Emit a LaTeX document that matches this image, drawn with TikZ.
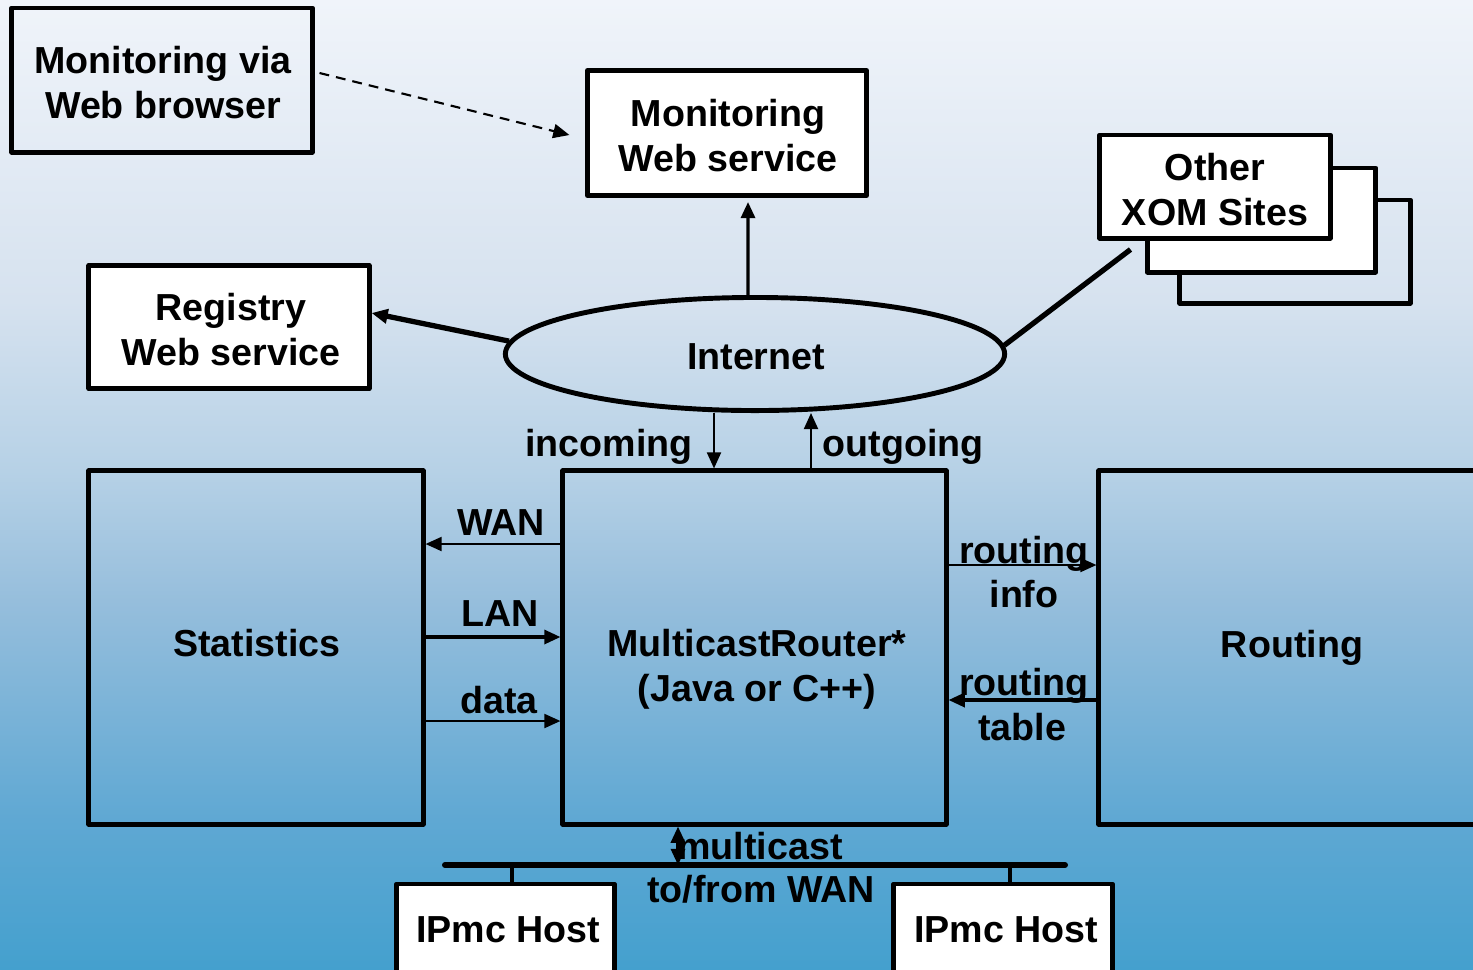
\documentclass[tikz,border=0pt]{standalone}
\usepackage{fontspec}
\setmainfont{Liberation Sans}
\usetikzlibrary{arrows.meta,shapes.geometric}

\definecolor{bgA}{RGB}{68,160,206}
\definecolor{bgB}{RGB}{95,168,211}
\definecolor{bgC}{RGB}{150,190,220}
\definecolor{bgD}{RGB}{182,209,230}
\definecolor{bgE}{RGB}{214,226,239}
\definecolor{bgF}{RGB}{240,244,250}

% backdrop: pale at the top, deepening to sky blue at the bottom
\pgfdeclareverticalshading{backdrop}{100bp}{%
  color(0bp)=(bgA);
  color(25bp)=(bgA);
  color(32.7bp)=(bgB);
  color(44bp)=(bgC);
  color(50.7bp)=(bgD);
  color(59.5bp)=(bgE);
  color(75bp)=(bgF);
  color(100bp)=(bgF)}

\begin{document}
\begin{tikzpicture}[x=0.01cm,y=-0.01cm,
  font=\fontsize{10.7}{12.8}\selectfont\bfseries,
  box/.style={draw,line width=1.4pt,line join=round,inner sep=0pt},
  wbox/.style={box,fill=white},
  txt/.style={inner sep=0pt,align=center},
  lab/.style={inner sep=0pt,anchor=base},
  arw/.style={-{Triangle[length=4.6pt,width=4pt]}},
  biarw/.style={{Triangle[length=4.6pt,width=4pt]}-{Triangle[length=4.6pt,width=4pt]}},
  thinline/.style={line width=0.6pt},
  midline/.style={line width=0.9pt},
  heavyline/.style={line width=1.5pt},
]
\useasboundingbox (0,0) rectangle (1473,969);
\shade[shading=backdrop] (0,0) rectangle (1473,969);

% top row
\node[box, minimum width=3.00cm, minimum height=1.44cm] (browser) at (162,80) {};
\node[txt] (browsertxt) at (163,83) {Monitoring via\\Web browser};
\node[wbox, minimum width=2.79cm, minimum height=1.25cm] (mws) at (727,133) {};
\node[txt] (mwstxt) at (728,136) {Monitoring\\Web service};

% stacked site boxes
\node[box, minimum width=2.30cm, minimum height=1.03cm] (xomc) at (1295,251.5) {};
\node[wbox, minimum width=2.28cm, minimum height=1.04cm] (xomb) at (1261.5,220) {};
\node[wbox, minimum width=2.30cm, minimum height=1.03cm] (xom) at (1215,186.5) {};
\node[txt] (xomtxt) at (1215,189.5) {Other\\XOM Sites};

\node[wbox, minimum width=2.80cm, minimum height=1.23cm] (reg) at (229,327) {};
\node[txt] (regtxt) at (231,330) {Registry\\Web service};
\node[draw, ellipse, line width=1.4pt, minimum width=4.99cm, minimum height=1.13cm, inner sep=0pt] (inet) at (755,354) {};
\node[txt] (inettxt) at (756,357) {Internet};

% main blocks
\node[box, minimum width=3.34cm, minimum height=3.53cm] (stats) at (256,647.5) {};
\node[txt] (statstxt) at (257,643.5) {Statistics};
\node[box, minimum width=3.83cm, minimum height=3.53cm] (mr) at (754.5,647.5) {};
\node[lab] (mrt1) at (757,656) {MulticastRouter*};
\node[lab] (mrt2) at (757,701) {(Java or C++)};
\node[box, minimum width=3.86cm, minimum height=3.53cm] (routing) at (1292,647.5) {};
\node[txt] (routingtxt) at (1292,648) {Routing};

% hosts on the WAN segment
\node[wbox, minimum width=2.17cm, minimum height=0.90cm] (h1) at (505.5,929) {};
\node[txt] (h1txt) at (508,930) {IPmc Host};
\node[wbox, minimum width=2.18cm, minimum height=0.90cm] (h2) at (1003,929) {};
\node[txt] (h2txt) at (1006,930) {IPmc Host};
\coordinate (busL) at (445,865);
\coordinate (busR) at (1065,865);

% labels
\node[lab] (lin) at (609,456) {incoming};
\node[lab] (lout) at (903,456) {outgoing};
\node[lab] (lwan) at (501,535) {WAN};
\node[lab] (llan) at (500,626) {LAN};
\node[lab] (ldata) at (499,713) {data};
\node[lab] (lri1) at (1024,563) {routing};
\node[lab] (lri2) at (1024,607) {info};
\node[lab] (lrt1) at (1024,695) {routing};
\node[lab] (lrt2) at (1022,740) {table};
\node[lab] (lmc1) at (760,859) {multicast};
\node[lab] (lmc2) at (761,902) {to/from WAN};

% connectors
\draw[arw, thinline, dash pattern=on 2.8pt off 2pt]
  ([xshift=0.05cm,yshift=0.07cm]browser.east) -- ([xshift=-0.155cm,yshift=-0.02cm]mws.west);
\draw[arw, midline] ([xshift=-0.07cm]inet.north) -- ([xshift=0.21cm,yshift=-0.04cm]mws.south);
\draw[arw, heavyline] (inet.177.5) -- ([yshift=0.14cm]reg.east);
\draw[heavyline] (inet.2.5) -- ([xshift=0.33cm,yshift=-0.09cm]xom.south west);

\draw[arw, thinline] (inet.south -| 714,0) -- (mr.north -| 714,0);
\draw[arw, thinline] (mr.north -| 811,0) -- (inet.south -| 811,0);

\draw[arw, thinline] (mr.west |- 0,544) -- (stats.east |- 0,544);
\draw[arw, midline] (stats.east |- 0,637) -- (mr.west |- 0,637);
\draw[arw, thinline] (stats.east |- 0,721) -- (mr.west |- 0,721);

\draw[arw, thinline] (mr.east |- 0,565) -- (routing.west |- 0,565);
\draw[arw, midline] (routing.west |- 0,700) -- (mr.east |- 0,700);

\draw[line width=1.7pt, line cap=round] (busL) -- (busR);
\draw[biarw, midline] (mr.south -| 678,0) -- (busL -| 678,0);
\draw[midline] (h1.north -| 512,0) -- (busL -| 512,0);
\draw[midline] (h2.north -| 1010,0) -- (busL -| 1010,0);
\end{tikzpicture}
\end{document}
